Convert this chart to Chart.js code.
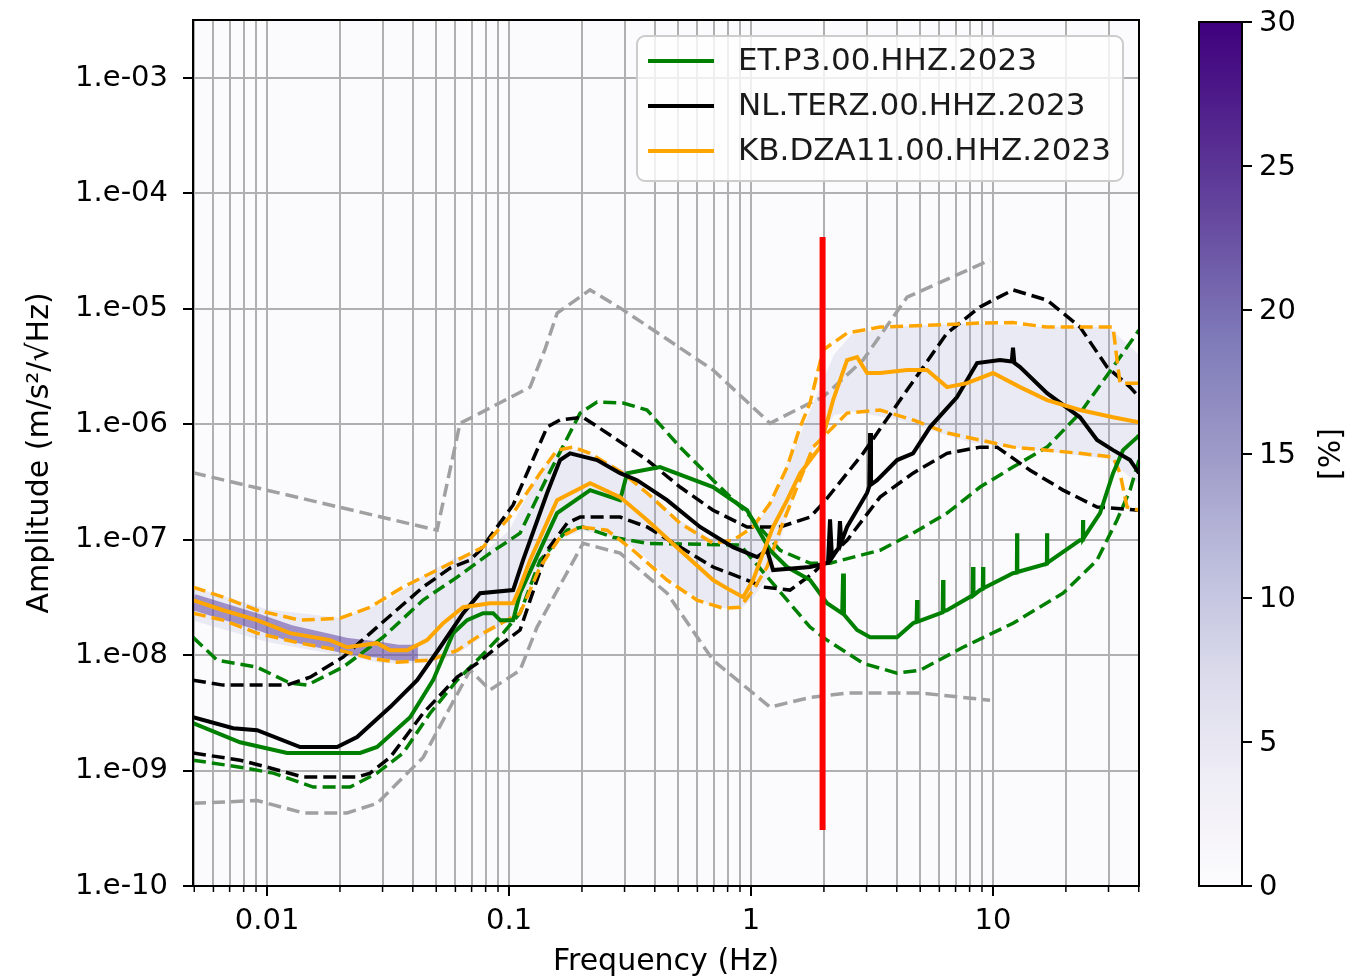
<!DOCTYPE html>
<html>
<head>
<meta charset="utf-8">
<script src="https://cdn.jsdelivr.net/npm/chart.js@4.4.0/dist/chart.umd.min.js"></script>
<style>
  html, body { margin: 0; padding: 0; background: #fff; }
  #wrap { width: 1356px; height: 980px; position: relative; }
</style>
</head>
<body>
<div id="wrap"><canvas id="grafico"></canvas></div>
<script>
// frequency (Hz) / amplitude (m/s^2/sqrt(Hz))

// ET.P3 (green)
const greenMedF = [0.00494, 0.00773, 0.0121, 0.02423, 0.02848, 0.039, 0.04853, 0.05871, 0.06705, 0.07809, 0.08589, 0.09181, 0.1039, 0.111, 0.1578, 0.2162, 0.2875, 0.3074, 0.4207, 0.6966, 0.9627, 1.198, 1.409, 1.753, 2.061, 2.38, 2.40, 2.42, 2.742, 3.103, 4.012, 4.671, 4.83, 4.853, 4.88, 6.19, 6.215, 6.24, 6.455, 8.24, 8.268, 8.3, 8.838, 9.07, 9.093, 9.12, 12.09, 12.54, 12.57, 12.6, 16.69, 16.72, 16.75, 22.88, 23.5, 23.54, 23.58, 27.68, 31.33, 34.45, 39.36, 40.1];
const greenMed = [2.58e-9, 1.76e-9, 1.42e-9, 1.42e-9, 1.6e-9, 2.9e-9, 6.07e-9, 1.55e-8, 2.01e-8, 2.31e-8, 2.31e-8, 2.01e-8, 2.01e-8, 3.44e-8, 1.7e-7, 2.69e-7, 2.2e-7, 3.77e-7, 4.26e-7, 2.86e-7, 1.8e-7, 8.1e-8, 5.8e-8, 4.47e-8, 2.82e-8, 2.3e-8, 5.1e-8, 2.25e-8, 1.65e-8, 1.43e-8, 1.43e-8, 1.89e-8, 1.95e-8, 3.0e-8, 1.95e-8, 2.35e-8, 4.47e-8, 2.4e-8, 2.45e-8, 3.3e-8, 5.8e-8, 3.3e-8, 3.66e-8, 3.75e-8, 5.8e-8, 3.8e-8, 5.13e-8, 5.2e-8, 1.14e-7, 5.25e-8, 6.2e-8, 1.14e-7, 6.3e-8, 9.9e-8, 1.0e-7, 1.48e-7, 1.02e-7, 1.7e-7, 3.77e-7, 5.97e-7, 7.7e-7, 8.0e-7];
const greenHiF = [0.00494, 0.00621, 0.00909, 0.01245, 0.01463, 0.0206, 0.03015, 0.04412, 0.061, 0.08347, 0.111, 0.1436, 0.1965, 0.231, 0.2959, 0.3717, 0.5088, 0.6966, 0.9627, 1.318, 1.753, 2.121, 3.413, 4.671, 6.455, 8.838, 12.09, 16.72, 22.88, 31.33, 40.1];
const greenHi = [1.43e-8, 9.05e-9, 7.87e-9, 5.72e-9, 5.5e-9, 7.87e-9, 1.43e-8, 3.0e-8, 4.74e-8, 7.65e-8, 1.14e-7, 3.48e-7, 1.25e-6, 1.56e-6, 1.53e-6, 1.33e-6, 6.34e-7, 3.28e-7, 1.7e-7, 8.1e-8, 6.26e-8, 6.26e-8, 8.1e-8, 1.14e-7, 1.7e-7, 2.86e-7, 4.26e-7, 6.34e-7, 1.25e-6, 3.13e-6, 6.55e-6];
const greenLoF = [0.00494, 0.00773, 0.0106, 0.0155, 0.02203, 0.02848, 0.03648, 0.04717, 0.061, 0.07589, 0.09446, 0.111, 0.1343, 0.1737, 0.2022, 0.269, 0.3717, 0.9006, 1.198, 1.753, 2.061, 2.903, 4.012, 4.993, 7.516, 12.09, 19.46, 26.9, 32.54, 36.83, 40.1];
const greenLo = [1.23e-9, 1.07e-9, 9.5e-10, 7.2e-10, 7.2e-10, 9.5e-10, 1.42e-9, 3.14e-9, 6.07e-9, 9.6e-9, 1.55e-8, 2.31e-8, 6.65e-8, 1.21e-7, 1.29e-7, 1.05e-7, 9.3e-8, 9.0e-8, 4.47e-8, 1.75e-8, 1.35e-8, 8.5e-9, 6.98e-9, 7.4e-9, 1.17e-8, 1.89e-8, 3.44e-8, 6.65e-8, 1.48e-7, 2.69e-7, 4.9e-7];

// NL.TERZ (black)
const blackMedF = [0.00494, 0.00724, 0.00909, 0.01369, 0.01947, 0.02355, 0.03224, 0.04168, 0.05188, 0.06455, 0.07589, 0.1039, 0.1142, 0.1436, 0.1624, 0.1787, 0.231, 0.2875, 0.3379, 0.4497, 0.6155, 0.8425, 1.059, 1.164, 1.233, 1.753, 2.08, 2.12, 2.16, 2.30, 2.33, 2.36, 2.493, 3.015, 3.08, 3.103, 3.13, 3.317, 4.012, 4.671, 5.491, 7.1, 8.588, 10.69, 11.95, 12.09, 12.25, 12.93, 16.72, 22.88, 26.9, 31.33, 36.83, 40.1];
const blackMed = [2.9e-9, 2.33e-9, 2.24e-9, 1.6e-9, 1.6e-9, 1.95e-9, 3.55e-9, 6.07e-9, 1.17e-8, 2.31e-8, 3.44e-8, 3.66e-8, 6.65e-8, 2.54e-7, 4.9e-7, 5.6e-7, 4.9e-7, 3.77e-7, 3.28e-7, 2.2e-7, 1.29e-7, 8.63e-8, 7.07e-8, 8.1e-8, 5.46e-8, 5.8e-8, 6.3e-8, 1.5e-7, 7.0e-8, 8.5e-8, 1.45e-7, 9.5e-8, 1.29e-7, 2.54e-7, 2.9e-7, 8.4e-7, 3.0e-7, 3.28e-7, 4.9e-7, 5.6e-7, 9.46e-7, 1.72e-6, 3.39e-6, 3.6e-6, 3.5e-6, 4.6e-6, 3.4e-6, 3.13e-6, 1.86e-6, 1.15e-6, 7.3e-7, 5.97e-7, 4.9e-7, 3.77e-7];
const blackHiF = [0.00494, 0.00658, 0.0121, 0.01506, 0.0206, 0.02848, 0.04412, 0.05706, 0.069, 0.0759, 0.1039, 0.1436, 0.1624, 0.2022, 0.269, 0.3717, 0.5088, 0.6966, 0.9627, 1.318, 1.753, 1.984, 2.903, 4.412, 6.455, 8.838, 12.09, 16.72, 22.88, 29.59, 36.83, 40.1];
const blackHi = [6.07e-9, 5.5e-9, 5.5e-9, 6.45e-9, 9.6e-9, 1.75e-8, 3.89e-8, 5.68e-8, 6.65e-8, 8.1e-8, 2.0e-7, 9.46e-7, 1.09e-6, 1.15e-6, 7.76e-7, 4.9e-7, 2.86e-7, 1.8e-7, 1.29e-7, 1.29e-7, 1.57e-7, 2.07e-7, 5.6e-7, 1.98e-6, 6.17e-6, 1.04e-5, 1.46e-5, 1.19e-5, 6.95e-6, 3.13e-6, 2.1e-6, 1.72e-6];
const blackLoF = [0.00494, 0.00773, 0.01, 0.01409, 0.02355, 0.02665, 0.03224, 0.04412, 0.061, 0.07375, 0.08922, 0.111, 0.1436, 0.1737, 0.1965, 0.2875, 0.3717, 0.5088, 0.6966, 0.9627, 1.121, 1.449, 1.804, 2.493, 3.413, 4.671, 6.455, 8.838, 10.39, 14.22, 19.46, 26.9, 40.1];
const blackLo = [1.42e-9, 1.23e-9, 1.07e-9, 8.8e-10, 8.8e-10, 9.5e-10, 1.3e-9, 3.14e-9, 6.45e-9, 8.5e-9, 1.17e-8, 1.65e-8, 8.1e-8, 1.39e-7, 1.57e-7, 1.57e-7, 1.29e-7, 8.63e-8, 5.8e-8, 4.47e-8, 3.89e-8, 3.66e-8, 5.13e-8, 9.9e-8, 2.34e-7, 3.77e-7, 5.6e-7, 6.34e-7, 6.34e-7, 4.0e-7, 2.69e-7, 1.92e-7, 1.8e-7];

// KB.DZA11 (orange)
const orangeMedF = [0.00494, 0.00658, 0.00909, 0.01245, 0.0182, 0.0214, 0.02848, 0.03224, 0.03789, 0.04582, 0.05338, 0.06455, 0.08347, 0.1039, 0.111, 0.1221, 0.1578, 0.2162, 0.2875, 0.3717, 0.5088, 0.6966, 0.8188, 0.9268, 1.019, 1.121, 1.233, 1.409, 1.594, 1.928, 2.183, 2.493, 2.742, 3.015, 3.413, 4.412, 5.337, 6.455, 7.808, 10.0, 12.93, 16.72, 22.88, 31.33, 40.1];
const orangeMed = [3.0e-8, 2.45e-8, 2.01e-8, 1.55e-8, 1.35e-8, 1.17e-8, 1.27e-8, 1.1e-8, 1.1e-8, 1.35e-8, 1.89e-8, 2.6e-8, 2.82e-8, 2.82e-8, 3.89e-8, 6.65e-8, 2.2e-7, 3.09e-7, 2.34e-7, 1.48e-7, 8.1e-8, 4.47e-8, 3.66e-8, 3.18e-8, 4.47e-8, 7.65e-8, 1.29e-7, 2.2e-7, 3.77e-7, 6.34e-7, 1.62e-6, 3.6e-6, 3.82e-6, 2.78e-6, 2.78e-6, 2.95e-6, 2.95e-6, 2.1e-6, 2.27e-6, 2.78e-6, 2.1e-6, 1.62e-6, 1.33e-6, 1.15e-6, 1.04e-6];
const orangeHiF = [0.00494, 0.00658, 0.00909, 0.01369, 0.02003, 0.02665, 0.03648, 0.05338, 0.07809, 0.1039, 0.1343, 0.1578, 0.1838, 0.2162, 0.2959, 0.3717, 0.5088, 0.6966, 0.8425, 1.019, 1.198, 1.409, 1.594, 1.753, 1.984, 2.493, 3.413, 8.838, 12.09, 16.72, 31.33, 32.54, 33.48, 40.1];
const orangeHi = [3.89e-8, 3.18e-8, 2.45e-8, 2.01e-8, 2.09e-8, 2.6e-8, 3.89e-8, 5.8e-8, 8.63e-8, 1.7e-7, 3.77e-7, 5.97e-7, 6.34e-7, 5.6e-7, 3.77e-7, 2.54e-7, 1.39e-7, 9.3e-8, 9.9e-8, 1.29e-7, 2.07e-7, 4.26e-7, 9.46e-7, 1.53e-6, 4.4e-6, 6.17e-6, 6.95e-6, 7.53e-6, 7.6e-6, 6.95e-6, 6.95e-6, 3.6e-6, 2.27e-6, 2.27e-6];
const orangeLoF = [0.00494, 0.00658, 0.00909, 0.01369, 0.02003, 0.02665, 0.03446, 0.04717, 0.061, 0.07809, 0.09811, 0.111, 0.1343, 0.1624, 0.1965, 0.2541, 0.3255, 0.4497, 0.5979, 0.766, 0.9006, 1.019, 1.164, 1.318, 1.549, 1.804, 2.493, 3.413, 4.671, 6.455, 8.838, 12.09, 16.72, 22.88, 31.33, 33.48, 35.79, 40.1];
const orangeLo = [2.31e-8, 2.01e-8, 1.55e-8, 1.27e-8, 1.1e-8, 9.4e-9, 8.7e-9, 9.05e-9, 1.1e-8, 1.55e-8, 2.01e-8, 2.31e-8, 5.8e-8, 1.05e-7, 1.29e-7, 1.21e-7, 8.1e-8, 4.47e-8, 3.0e-8, 2.55e-8, 2.6e-8, 3.66e-8, 5.8e-8, 1.21e-7, 2.86e-7, 6.34e-7, 1.25e-6, 1.33e-6, 1.09e-6, 8.4e-7, 7.3e-7, 6.34e-7, 5.97e-7, 5.6e-7, 5.2e-7, 3.77e-7, 1.92e-7, 1.8e-7];

// noise models (grey dashed)
const nhnmF = [0.00494, 0.0504, 0.0627, 0.0759, 0.1221, 0.1409, 0.158, 0.216, 0.296, 0.697, 1.198, 1.753, 1.984, 2.903, 4.41, 9.72];
const nhnm = [3.8e-7, 1.21e-7, 1.02e-6, 1.25e-6, 2.1e-6, 4.5e-6, 9.2e-6, 1.46e-5, 9.8e-6, 2.95e-6, 1.02e-6, 1.53e-6, 1.72e-6, 3.6e-6, 1.26e-5, 2.65e-5];
const nlnmF = [0.00494, 0.00909, 0.01409, 0.0214, 0.02848, 0.04412, 0.069, 0.08347, 0.111, 0.1305, 0.2022, 0.2875, 0.4497, 0.6966, 1.198, 1.753, 2.493, 4.993, 9.72];
const nlnm = [5.2e-10, 5.5e-10, 4.3e-10, 4.3e-10, 5.2e-10, 1.3e-9, 7.4e-9, 5.0e-9, 7.4e-9, 1.75e-8, 9.3e-8, 7.65e-8, 3.44e-8, 9.05e-9, 3.55e-9, 4.3e-9, 4.7e-9, 4.7e-9, 4.07e-9];

// probability density band behind the curves
const densF = [0.00494, 0.01, 0.02, 0.03, 0.045, 0.06, 0.08, 0.1, 0.13, 0.16, 0.2, 0.3, 0.5, 0.7, 0.9, 1.0, 1.2, 1.5, 1.8, 2.2, 2.6, 4, 8, 15, 30, 40.1];
const densHi = [3.9e-8, 2.5e-8, 2.1e-8, 2.8e-8, 5e-8, 7e-8, 8e-8, 1.2e-7, 3.5e-7, 6e-7, 6e-7, 4e-7, 1.5e-7, 1e-7, 1e-7, 1.2e-7, 2e-7, 6e-7, 1.5e-6, 4e-6, 6e-6, 7e-6, 7.5e-6, 7e-6, 7e-6, 4e-6];
const densLo = [2e-8, 1.3e-8, 1.0e-8, 8.5e-9, 8.5e-9, 1e-8, 1.5e-8, 2e-8, 5e-8, 1e-7, 1.2e-7, 1e-7, 4e-8, 2.6e-8, 2.5e-8, 3e-8, 5e-8, 2.5e-7, 6e-7, 1.2e-6, 1.3e-6, 1.1e-6, 7e-7, 6e-7, 5e-7, 3e-7];
const ridgeF = [0.00494, 0.00658, 0.00909, 0.01245, 0.0182, 0.0214, 0.02848, 0.0345, 0.042];
const ridge = [2.9e-8, 2.4e-8, 1.95e-8, 1.55e-8, 1.3e-8, 1.2e-8, 1.12e-8, 1.05e-8, 1.05e-8];

// red marker at 2 Hz
const redF = [1.975, 1.975];
const redA = [4.2e-5, 3.05e-10];

// ticks
const xTickVals = [0.01, 0.1, 1, 10];
const xTickLabels = ['0.01', '0.1', '1', '10'];
const yTickVals = [1e-10, 1e-9, 1e-8, 1e-7, 1e-6, 1e-5, 1e-4, 1e-3];
const yTickLabels = ['1.e-10', '1.e-09', '1.e-08', '1.e-07', '1.e-06', '1.e-05', '1.e-04', '1.e-03'];
const cbTickVals = [0, 5, 10, 15, 20, 25, 30];

const legendLabels = ['ET.P3.00.HHZ.2023', 'NL.TERZ.00.HHZ.2023', 'KB.DZA11.00.HHZ.2023'];
const legendColors = ['#008000', '#000000', '#ffa500'];
const purples = ['#fcfbfd', '#efedf5', '#dadaeb', '#bcbddc', '#9e9ac8', '#807dba', '#6a51a3', '#54278f', '#3f007d'];

const FONT = '"DejaVu Sans", sans-serif';

function pts(fs, vs){
  return fs.map((f, i) => ({x: f, y: vs[i]}));
}

function sameVal(a, b){ return Math.abs(a / b - 1) < 1e-6; }

// all x grid positions: 1..9 x every decade
const xAll = [];
for (let e = -3; e <= 1; e++){
  for (let m = 1; m <= 9; m++){
    const v = m * Math.pow(10, e);
    if (v >= 0.00494 && v <= 40.1) xAll.push(v);
  }
}
function isMajorX(v){ return xTickVals.some(t => sameVal(v, t)); }

const dash = [13, 6];

function linea(label, fs, vs, color, width, dashed, order){
  return {
    label, data: pts(fs, vs), borderColor: color, borderWidth: width,
    borderDash: dashed ? dash : [], pointRadius: 0, fill: false, tension: 0,
    order, clip: 0
  };
}

const datasets = [
  linea('red', redF, redA, '#ff0000', 6, false, 0),
  linea(legendLabels[2], orangeMedF, orangeMed, '#ffa500', 4, false, 1),
  linea(legendLabels[1], blackMedF, blackMed, '#000000', 4, false, 2),
  linea(legendLabels[0], greenMedF, greenMed, '#008000', 4, false, 3),
  linea('orange hi', orangeHiF, orangeHi, '#ffa500', 3.5, true, 4),
  linea('orange lo', orangeLoF, orangeLo, '#ffa500', 3.5, true, 5),
  linea('black hi', blackHiF, blackHi, '#000000', 3.5, true, 6),
  linea('black lo', blackLoF, blackLo, '#000000', 3.5, true, 7),
  linea('green hi', greenHiF, greenHi, '#008000', 3.5, true, 8),
  linea('green lo', greenLoF, greenLo, '#008000', 3.5, true, 9),
  linea('NHNM', nhnmF, nhnm, '#a0a0a0', 3.5, true, 10),
  linea('NLNM', nlnmF, nlnm, '#a0a0a0', 3.5, true, 11),
  linea('ridge', ridgeF, ridge, 'rgba(95,70,160,0.55)', 16, false, 12),
  Object.assign(linea('dens hi', densF, densHi, 'rgba(0,0,0,0)', 0, false, 13), {fill: '+1', backgroundColor: 'rgba(170,170,215,0.2)'}),
  linea('dens lo', densF, densLo, 'rgba(0,0,0,0)', 0, false, 14)
];

const extras = {
  id: 'extras',
  beforeDraw(chart){
    const {ctx, chartArea: a} = chart;
    ctx.save();
    ctx.fillStyle = '#fbfafd';
    ctx.fillRect(a.left, a.top, a.right - a.left, a.bottom - a.top);
    ctx.restore();
  },
  afterDraw(chart){
    const {ctx, chartArea: a} = chart;
    const xs = chart.scales.x;
    ctx.save();

    // frame
    ctx.strokeStyle = '#000';
    ctx.lineWidth = 2;
    ctx.strokeRect(a.left, a.top, a.right - a.left, a.bottom - a.top);

    // minor ticks on x
    ctx.lineWidth = 1.5;
    xAll.forEach(v => {
      if (isMajorX(v)) return;
      const x = xs.getPixelForValue(v);
      ctx.beginPath();
      ctx.moveTo(x, a.bottom);
      ctx.lineTo(x, a.bottom + 6);
      ctx.stroke();
    });

    // legend
    ctx.fillStyle = 'rgba(255,255,255,0.8)';
    ctx.strokeStyle = '#cccccc';
    ctx.lineWidth = 2;
    ctx.beginPath();
    ctx.roundRect(637, 36, 486, 145, 8);
    ctx.fill();
    ctx.stroke();
    ctx.font = '31px ' + FONT;
    ctx.textBaseline = 'middle';
    ctx.textAlign = 'left';
    legendLabels.forEach((lab, i) => {
      const y = 61 + i * 45;
      ctx.strokeStyle = legendColors[i];
      ctx.lineWidth = 4;
      ctx.beginPath();
      ctx.moveTo(648, y);
      ctx.lineTo(714, y);
      ctx.stroke();
      ctx.fillStyle = '#1a1a1a';
      ctx.fillText(lab, 738, y + 1);
    });

    // colorbar
    const cx = 1199, cw = 43, ct = 22, cb = 886;
    const g = ctx.createLinearGradient(0, cb, 0, ct);
    purples.forEach((c, i) => g.addColorStop(i / (purples.length - 1), c));
    ctx.fillStyle = g;
    ctx.fillRect(cx, ct, cw, cb - ct);
    ctx.strokeStyle = '#000';
    ctx.lineWidth = 2;
    ctx.strokeRect(cx, ct, cw, cb - ct);
    ctx.font = '29px ' + FONT;
    ctx.fillStyle = '#000';
    cbTickVals.forEach(v => {
      const y = cb - v / 30 * (cb - ct);
      ctx.beginPath();
      ctx.moveTo(cx + cw, y);
      ctx.lineTo(cx + cw + 10, y);
      ctx.stroke();
      ctx.fillText(String(v), cx + cw + 17, y + 1);
    });
    ctx.translate(1332, 454);
    ctx.rotate(-Math.PI / 2);
    ctx.textAlign = 'center';
    ctx.font = '30px ' + FONT;
    ctx.fillText('[%]', 0, 0);
    ctx.restore();
  }
};

const grafico = new Chart(document.getElementById('grafico'), {
  type: 'line',
  data: {datasets},
  options: {
    responsive: true,
    maintainAspectRatio: false,
    animation: false,
    events: [],
    layout: {padding: {top: 20, right: 217, bottom: 0, left: 0}},
    plugins: {legend: {display: false}, tooltip: {enabled: false}},
    scales: {
      x: {
        type: 'logarithmic', min: 0.00494, max: 40.1,
        afterBuildTicks: s => { s.ticks = xAll.map(v => ({value: v})); },
        afterFit: s => { s.height = 94; s.paddingLeft = 0; s.paddingRight = 0; },
        ticks: {
          autoSkip: false, maxRotation: 0, minRotation: 0, padding: 8, color: '#000',
          font: {family: FONT, size: 29},
          callback: v => { const i = xTickVals.findIndex(t => sameVal(v, t)); return i >= 0 ? xTickLabels[i] : ''; }
        },
        grid: {
          color: '#b0b0b0', lineWidth: 2, tickLength: 10, tickWidth: 2,
          tickColor: c => (c.tick && isMajorX(c.tick.value)) ? '#000' : 'rgba(0,0,0,0)'
        },
        border: {color: '#000', width: 2},
        title: {display: true, text: 'Frequency (Hz)', color: '#000', font: {family: FONT, size: 30}, padding: {top: 0, bottom: 0}}
      },
      y: {
        type: 'logarithmic', min: 1e-10, max: 3.18e-3,
        afterBuildTicks: s => { s.ticks = yTickVals.map(v => ({value: v})); },
        afterFit: s => { s.width = 193; s.paddingTop = 0; s.paddingBottom = 0; },
        ticks: {
          autoSkip: false, padding: 15, color: '#000',
          font: {family: FONT, size: 29},
          callback: v => { const i = yTickVals.findIndex(t => sameVal(v, t)); return i >= 0 ? yTickLabels[i] : ''; }
        },
        grid: {color: '#b0b0b0', lineWidth: 2, tickLength: 10, tickWidth: 2, tickColor: '#000'},
        border: {color: '#000', width: 2},
        title: {display: true, text: 'Amplitude (m/s²/√Hz)', color: '#000', font: {family: FONT, size: 30}, padding: {top: 22, bottom: 0}}
      }
    }
  },
  plugins: [extras]
});
</script>
</body>
</html>
